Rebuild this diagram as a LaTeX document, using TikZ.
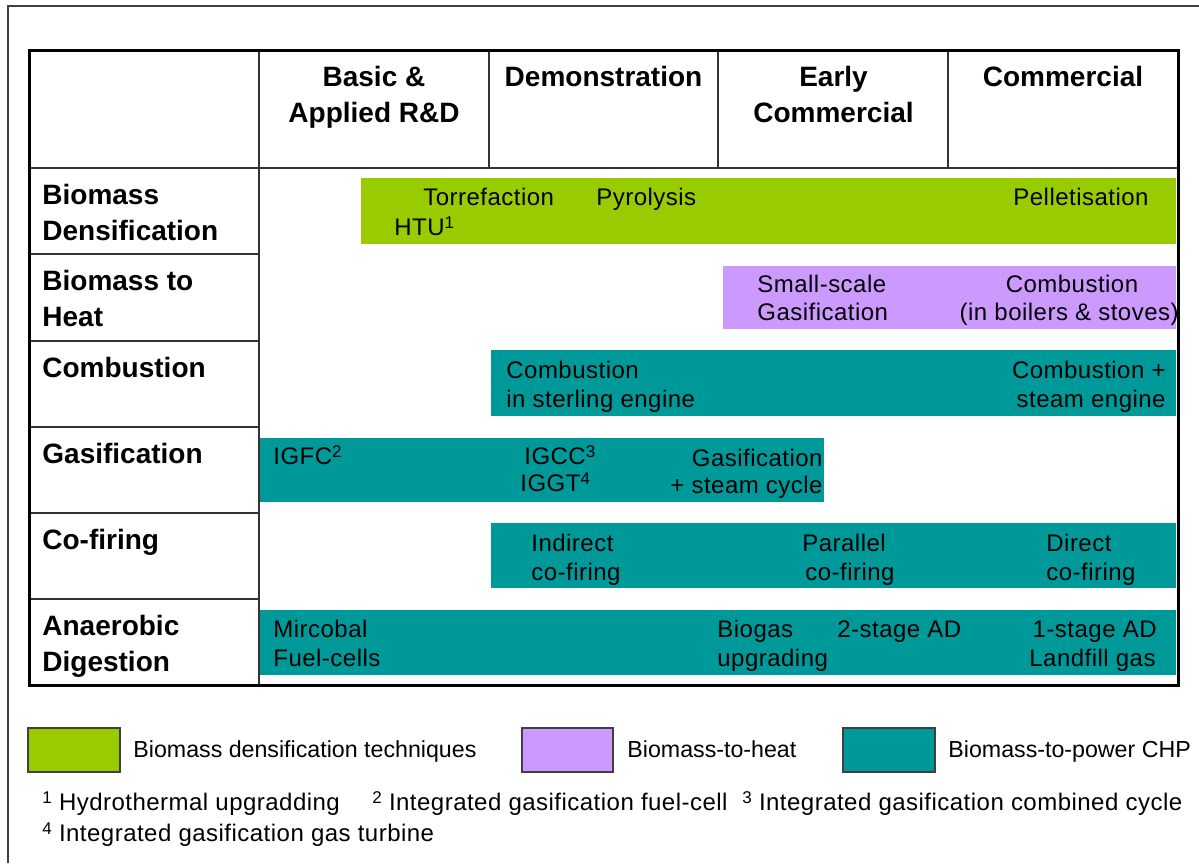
\documentclass[tikz,border=0pt]{standalone}
\usepackage{fontspec}
\setmainfont{Liberation Sans}
\newfontfamily\techfont{Liberation Sans}[LetterSpace=2]
\definecolor{densgreen}{RGB}{153,204,0}
\definecolor{heatlilac}{RGB}{204,153,255}
\definecolor{powerteal}{RGB}{0,153,153}
\newcommand{\fnmark}[1]{\raisebox{0.55ex}{\fontsize{8.5}{10}\selectfont #1}}
\tikzset{
  stagehead/.style={font=\fontsize{14}{16}\selectfont\bfseries,inner sep=0pt,anchor=base},
  rowhead/.style={font=\fontsize{14}{16}\selectfont\bfseries,inner sep=0pt,anchor=base west},
  tech/.style={font=\techfont\fontsize{12}{14}\selectfont,inner sep=0pt,anchor=base west},
  techr/.style={tech,anchor=base east},
  keytext/.style={font=\fontsize{11.6}{14}\selectfont,inner sep=0pt,anchor=base west},
  tabline/.style={draw=black!80,line width=0.75pt},
  keybox/.style={draw=black!75,line width=0.75pt},
}

\begin{document}
\begin{tikzpicture}[x=0.5pt,y=-0.5pt]
\useasboundingbox (0,0) rectangle (1199,863);
% outer frame
\draw[black!75,line width=1pt] (8,863) -- (8,6) -- (1199,6);

% bars
\fill[densgreen] (361,178) rectangle (1176,244);
\fill[heatlilac] (723,266) rectangle (1176,329);
\fill[powerteal] (491,350) rectangle (1176,416);
\fill[powerteal] (259,438) rectangle (824,502);
\fill[powerteal] (491,523) rectangle (1176,588);
\fill[powerteal] (259,610) rectangle (1176,675);

% table lines
\draw[tabline] (29,168) -- (1179,168);
\foreach \x in {489,718,948} \draw[tabline] (\x,50) -- (\x,168);
\draw[tabline] (259,50) -- (259,686);
\foreach \y in {254,341,427,513,599} \draw[tabline] (29,\y) -- (259,\y);
\draw[black,line width=1.5pt] (29.5,50) rectangle (1178.5,685.5);

% stages
\node[stagehead] (basic) at (374,86) {Basic \&};
\node[stagehead] (applied) at (374,122) {Applied R\&D};
\node[stagehead] (demo) at (603.5,86) {Demonstration};
\node[stagehead] (early) at (833.5,86) {Early};
\node[stagehead] (earlycom) at (833.5,122) {Commercial};
\node[stagehead] (comm) at (1063,86) {Commercial};

% routes
\node[rowhead] (densA) at (42,204) {Biomass};
\node[rowhead] (densB) at (42,240) {Densification};
\node[rowhead] (heatA) at (42,290) {Biomass to};
\node[rowhead] (heatB) at (42,326) {Heat};
\node[rowhead] (combhead) at (42,377) {Combustion};
\node[rowhead] (gashead) at (42,463) {Gasification};
\node[rowhead] (cofhead) at (42,549) {Co-firing};
\node[rowhead] (adA) at (42,635) {Anaerobic};
\node[rowhead] (adB) at (42,671) {Digestion};

% densification
\node[tech] (torref) at (423,205) {Torrefaction};
\node[tech] (pyrol) at (596,205) {Pyrolysis};
\node[techr] (pellet) at (1149,205) {Pelletisation};
\node[tech] (htu) at (394,235) {HTU\fnmark{1}};

% heat
\node[tech] (smallA) at (757,292) {Small-scale};
\node[tech] (smallB) at (757,320) {Gasification};
\node[tech,anchor=base] (boilA) at (1072,292) {Combustion};
\node[techr] (boilB) at (1179,320) {(in boilers \& stoves)};

% combustion
\node[tech] (sterlA) at (506,378) {Combustion};
\node[tech] (sterlB) at (506,407) {in sterling engine};
\node[techr] (steamA) at (1166,378) {Combustion +};
\node[techr] (steamB) at (1166,407) {steam engine};

% gasification
\node[tech] (igfc) at (273,464) {IGFC\fnmark{2}};
\node[tech] (igcc) at (524,464) {IGCC\fnmark{3}};
\node[tech] (iggt) at (520,491) {IGGT\fnmark{4}};
\node[techr] (gcycA) at (823,466) {Gasification};
\node[techr] (gcycB) at (823,493) {+ steam cycle};

% co-firing
\node[tech] (indA) at (531,551) {Indirect};
\node[tech] (indB) at (531,580) {co-firing};
\node[tech] (parA) at (802,551) {Parallel};
\node[tech] (parB) at (805,580) {co-firing};
\node[tech] (dirA) at (1046,551) {Direct};
\node[tech] (dirB) at (1046,580) {co-firing};

% anaerobic digestion
\node[tech] (mfcA) at (273,637) {Mircobal};
\node[tech] (mfcB) at (273,666) {Fuel-cells};
\node[tech] (bgA) at (717,637) {Biogas};
\node[tech] (bgB) at (717,666) {upgrading};
\node[tech] (twoad) at (837,637) {2-stage AD};
\node[techr] (oneadA) at (1157,637) {1-stage AD};
\node[techr] (oneadB) at (1156,666) {Landfill gas};

% legend
\draw[keybox,fill=densgreen] (28,728) rectangle (120,772);
\node[keytext] (keydens) at (133,757) {Biomass densification techniques};
\draw[keybox,fill=heatlilac] (522,728) rectangle (613,772);
\node[keytext] (keyheat) at (627,757) {Biomass-to-heat};
\draw[keybox,fill=powerteal] (843,728) rectangle (935,772);
\node[keytext] (keypower) at (948,757) {Biomass-to-power CHP};

% footnotes
\node[tech] (fnA) at (42,810) {\fnmark{1} Hydrothermal upgradding};
\node[tech] (fnB) at (372,810) {\fnmark{2} Integrated gasification fuel-cell};
\node[tech] (fnC) at (742,810) {\fnmark{3} Integrated gasification combined cycle};
\node[tech] (fnD) at (42,841) {\fnmark{4} Integrated gasification gas turbine};
\end{tikzpicture}
\end{document}
